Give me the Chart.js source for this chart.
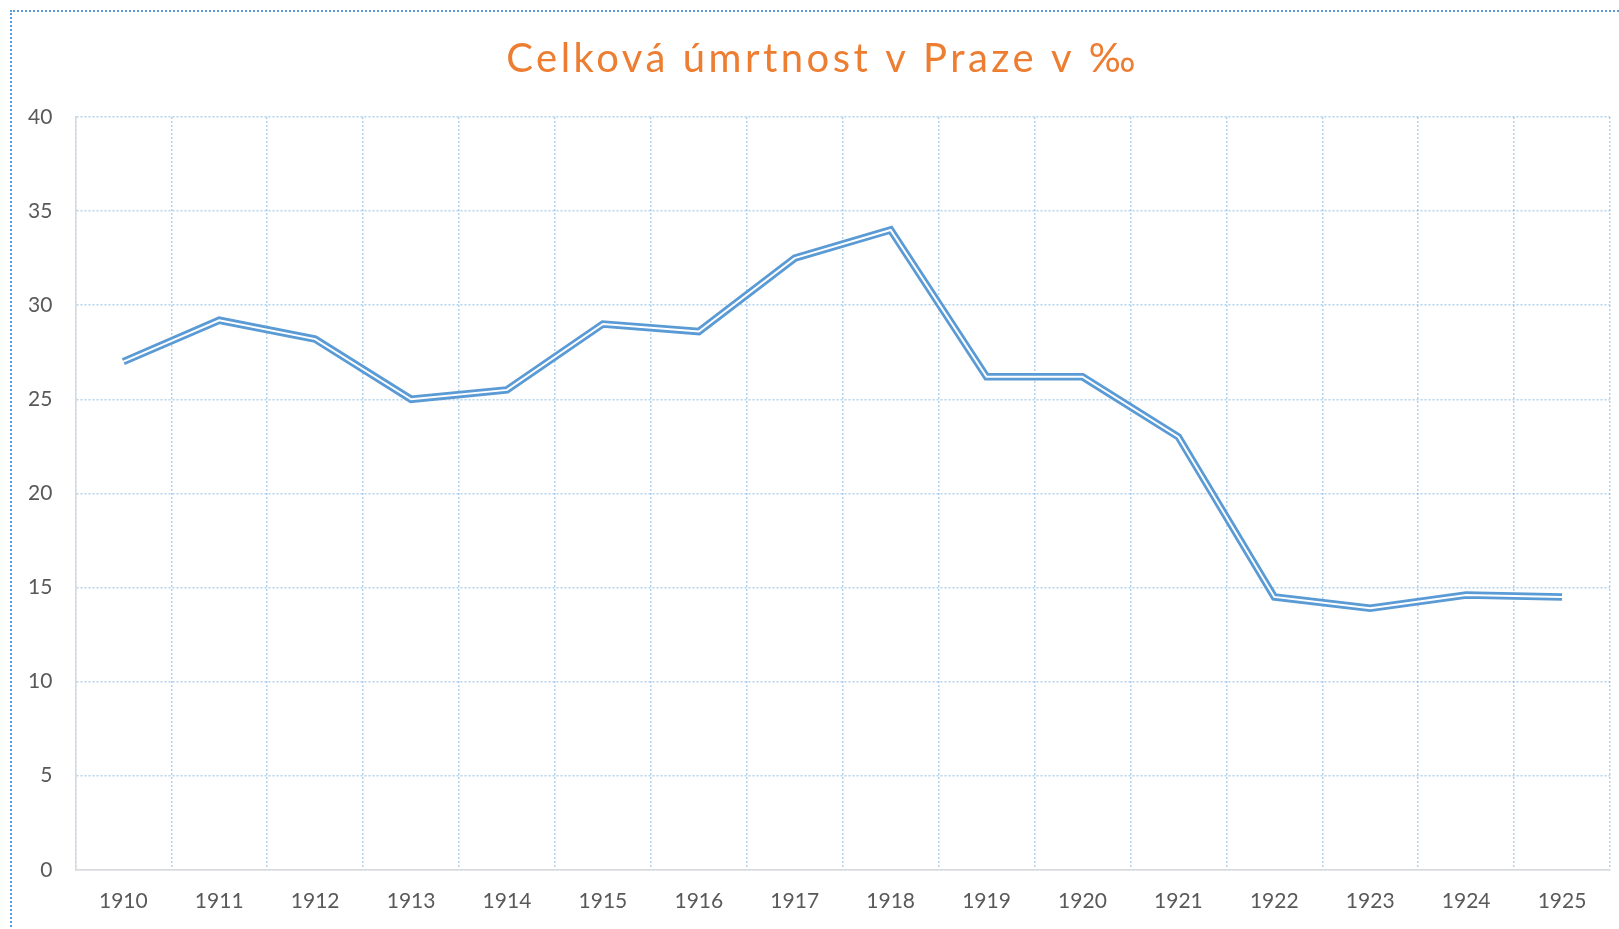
<!DOCTYPE html>
<html>
<head>
<meta charset="utf-8">
<script src="https://cdn.jsdelivr.net/npm/chart.js@4"></script>
<style>
  html, body { margin: 0; padding: 0; background: #fff; }
  #wrap { position: relative; width: 1619px; height: 929px; overflow: hidden; }
  #frame {
    position: absolute; left: 10px; top: 10px; width: 1640px; height: 960px;
    border: 2px dotted #5B9BD5; pointer-events: none;
  }
</style>
</head>
<body>
<div id="wrap">
  <canvas id="mortality" width="1619" height="929"></canvas>
  <div id="frame"></div>
</div>
<script>
const years = ['1910', '1911', '1912', '1913', '1914', '1915', '1916', '1917',
               '1918', '1919', '1920', '1921', '1922', '1923', '1924', '1925'];
const mortality = [27.0, 29.2, 28.2, 25.0, 25.5, 29.0, 28.6, 32.5,
                   34.0, 26.2, 26.2, 23.0, 14.5, 13.9, 14.6, 14.5];
const yTicks = [0, 5, 10, 15, 20, 25, 30, 35, 40];

const tickFont = { family: 'Lato', size: 21 };
const gridColor = 'rgba(91, 155, 213, 0.45)';

// letter spacing (and a small shift) for the title only
const spacedTitle = {
  id: 'spacedTitle',
  beforeDraw(chart) {
    const tb = chart.titleBlock;
    if (tb && !tb._spaced) {
      const orig = tb.draw.bind(tb);
      tb.draw = function () {
        chart.ctx.save();
        chart.ctx.letterSpacing = '3.5px';
        chart.ctx.translate(15, 0);
        orig();
        chart.ctx.restore();
      };
      tb._spaced = true;
    }
  }
};

const ctx = document.getElementById('mortality');

new Chart(ctx, {
  type: 'line',
  data: {
    labels: years,
    datasets: [{
      data: mortality,
      borderColor: '#ffffff',
      borderWidth: 2,
      pointRadius: 0,
      borderJoinStyle: 'miter',
      tension: 0
    }, {
      data: mortality,
      borderColor: '#5B9BD5',
      borderWidth: 7.5,
      pointRadius: 0,
      borderJoinStyle: 'miter',
      tension: 0
    }]
  },
  options: {
    responsive: false,
    animation: false,
    events: [],
    layout: {
      padding: { left: 5, right: 9, top: 0, bottom: -4 }
    },
    scales: {
      x: {
        offset: true,
        grid: { offset: true, color: gridColor, lineWidth: 1.5, drawTicks: false },
        border: { color: '#D9D9D9', width: 1.5, dash: [2, 2] },
        ticks: { color: '#595959', font: tickFont, padding: 19, maxRotation: 0 }
      },
      y: {
        min: 0,
        max: 40,
        afterBuildTicks(scale) {
          scale.ticks = yTicks.map(v => ({ value: v }));
        },
        grid: { color: gridColor, lineWidth: 1.5, drawTicks: false },
        border: { color: '#D9D9D9', width: 1.5, dash: [2, 2] },
        ticks: { color: '#595959', font: tickFont, padding: 23 }
      }
    },
    plugins: {
      legend: { display: false },
      tooltip: { enabled: false },
      title: {
        display: true,
        text: 'Celková úmrtnost v Praze v ‰',
        color: '#ED7D31',
        font: { family: 'Lato', size: 40, weight: 'normal', lineHeight: 1.2 },
        padding: { top: 35, bottom: 34 }
      }
    }
  },
  plugins: [spacedTitle]
});
</script>
</body>
</html>
